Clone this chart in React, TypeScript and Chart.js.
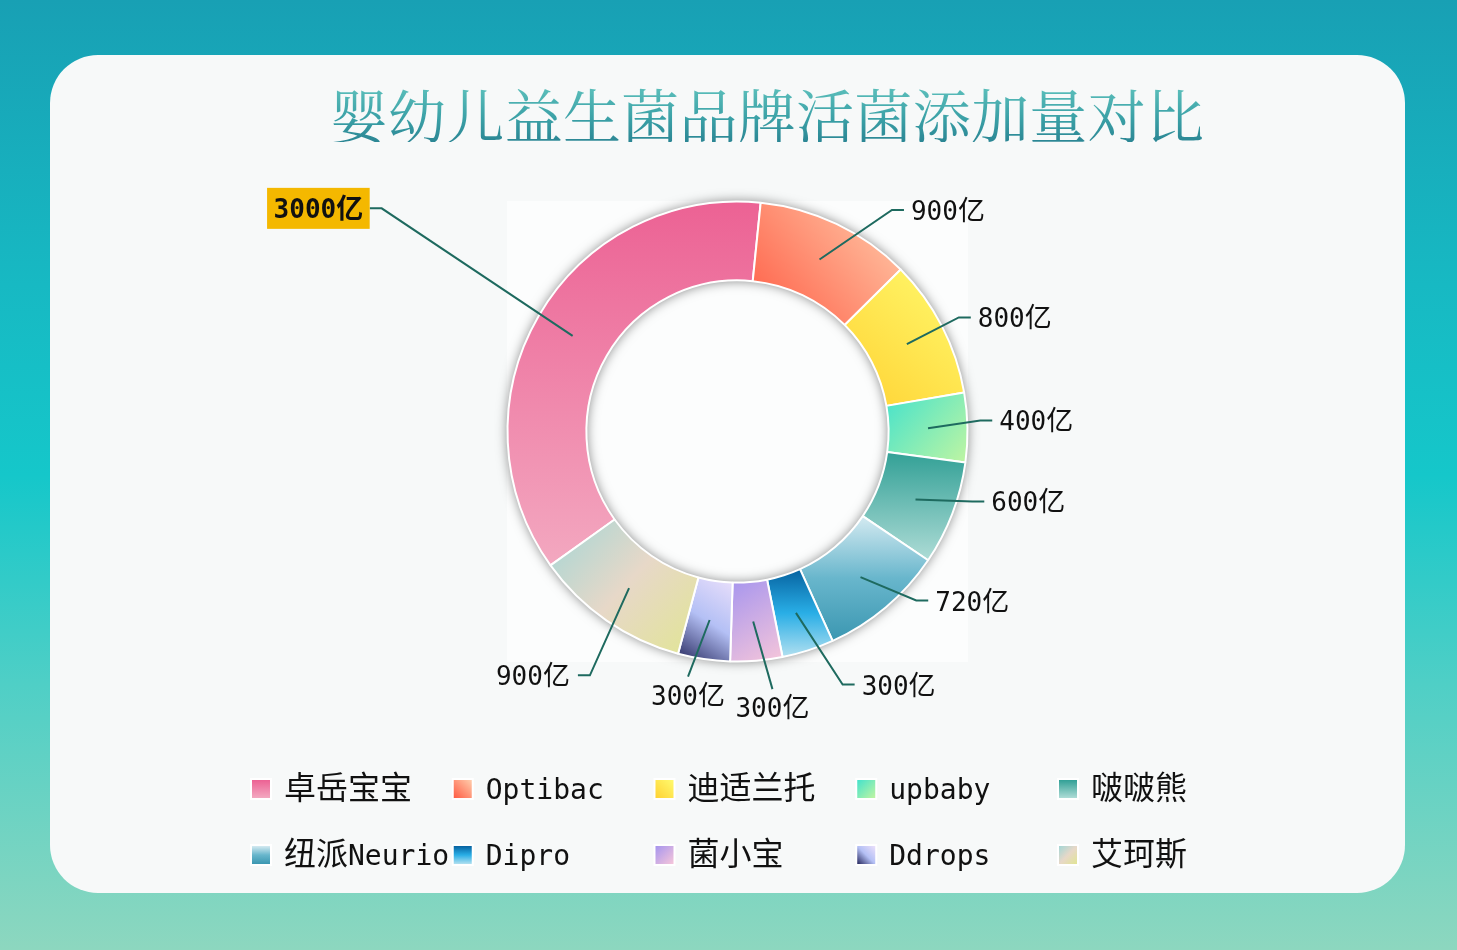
import { useEffect, useRef } from "react";
import { Chart, registerables } from "chart.js";

Chart.register(...registerables);

// data
const brands = ["卓岳宝宝", "Optibac", "迪适兰托", "upbaby", "啵啵熊", "纽派Neurio", "Dipro", "菌小宝", "Ddrops", "艾珂斯"];
const amounts = [3000, 900, 800, 400, 600, 720, 300, 300, 300, 900];
const unit = "亿";

// per-slice gradient: direction in the slice's bounding box (x0,y0,x1,y1) and colour stops
const sliceFills = [
  { dir: [0, 0, 0, 1], stops: ["#ec6294", "#f3a8c0"] },
  { dir: [0, 1, 1, 0], stops: ["#ff5c44", "#ffcdac"] },
  { dir: [0, 1, 1, 0], stops: ["#ffd233", "#fffa6e"] },
  { dir: [0, 0, 1, 1], stops: ["#44e2cc", "#c0f5a2"] },
  { dir: [0, 0, 0, 1], stops: ["#32a096", "#aedcd6"] },
  { dir: [0, 0, 0, 1], stops: ["#d4eaf1", "#68b6cc", "#3b97b1"] },
  { dir: [0, 0, 0, 1], stops: ["#0662a0", "#29aee6", "#b2e0f0"] },
  { dir: [0, 0, 1, 1], stops: ["#a695ee", "#f6c6da"] },
  { dir: [0, 1, 1, 0], stops: ["#26285e", "#b4c0f5", "#ebe0fb"] },
  { dir: [0, 0, 1, 1], stops: ["#a3d6d6", "#e7d8c8", "#e1e594"] },
];

// leader line layout: extra length past the ring, angle nudge (deg), where the text goes
const labelLines = [
  { len: 190, nudge: 2, side: "left", boxed: true },
  { len: 40, nudge: 9.4, side: "right" },
  { len: 19, nudge: 0, side: "right" },
  { len: 13, nudge: -1.6, side: "right" },
  { len: 15, nudge: -4.3, side: "right" },
  { len: 16, nudge: -6.4, side: "right" },
  { len: 44, nudge: -4.7, side: "right" },
  { len: 30, nudge: -3, side: "below" },
  { len: 20, nudge: 3, side: "below" },
  { len: 55, nudge: -3.5, side: "left" },
];

const rotationDeg = 234.4;
const outerR = 230;
const cutoutPct = 65.7;

const CARD = { left: 50, top: 55, width: 1355, height: 838 };

const latinFont = (size: number, bold = false) => `${bold ? "bold " : ""}${size}px "DejaVu Sans Mono", monospace`;
const cjkFont = (size: number, bold = false) => `${bold ? "bold " : ""}${size}px "Noto Sans CJK SC", sans-serif`;

function splitRuns(text: string) {
  const runs: { t: string; cjk: boolean }[] = [];
  for (const ch of text) {
    const cjk = /[\u2e80-\u9fff\uff00-\uffef]/.test(ch);
    const last = runs[runs.length - 1];
    if (last && last.cjk === cjk) last.t += ch;
    else runs.push({ t: ch, cjk });
  }
  return runs;
}

function mixedWidth(ctx: CanvasRenderingContext2D, text: string, lf: string, cf: string) {
  let w = 0;
  for (const r of splitRuns(text)) {
    ctx.font = r.cjk ? cf : lf;
    w += ctx.measureText(r.t).width;
  }
  return w;
}

function drawMixed(ctx: CanvasRenderingContext2D, text: string, x: number, base: number, align: string, lf: string, cf: string) {
  const w = mixedWidth(ctx, text, lf, cf);
  let cx = align === "right" ? x - w : align === "center" ? x - w / 2 : x;
  ctx.textAlign = "left";
  ctx.textBaseline = "alphabetic";
  for (const r of splitRuns(text)) {
    ctx.font = r.cjk ? cf : lf;
    ctx.fillText(r.t, cx, base);
    cx += ctx.measureText(r.t).width;
  }
  return w;
}

function sectorBox(cx: number, cy: number, r0: number, r1: number, a0: number, a1: number) {
  let x0 = Infinity, y0 = Infinity, x1 = -Infinity, y1 = -Infinity;
  for (let k = 0; k <= 60; k++) {
    const a = a0 + ((a1 - a0) * k) / 60;
    for (const r of [r0, r1]) {
      const x = cx + r * Math.cos(a);
      const y = cy + r * Math.sin(a);
      x0 = Math.min(x0, x); y0 = Math.min(y0, y);
      x1 = Math.max(x1, x); y1 = Math.max(y1, y);
    }
  }
  return { x0, y0, x1, y1 };
}

function gradientIn(ctx: CanvasRenderingContext2D, b: { x0: number; y0: number; x1: number; y1: number }, spec: { dir: number[]; stops: string[] }) {
  const w = b.x1 - b.x0, h = b.y1 - b.y0;
  const g = ctx.createLinearGradient(b.x0 + spec.dir[0] * w, b.y0 + spec.dir[1] * h, b.x0 + spec.dir[2] * w, b.y0 + spec.dir[3] * h);
  spec.stops.forEach((c, i) => g.addColorStop(i / (spec.stops.length - 1), c));
  return g;
}

function sliceFill(c: any) {
  const i = c.dataIndex;
  const spec = sliceFills[i % sliceFills.length];
  const area = c.chart.chartArea;
  if (!area || i == null) return spec.stops[0];
  const total = amounts.reduce((s, v) => s + v, 0);
  let a0 = (rotationDeg * Math.PI) / 180 - Math.PI / 2;
  for (let k = 0; k < i; k++) a0 += (amounts[k] / total) * Math.PI * 2;
  const a1 = a0 + (amounts[i] / total) * Math.PI * 2;
  const cx = (area.left + area.right) / 2;
  const cy = (area.top + area.bottom) / 2;
  const b = sectorBox(cx, cy, (outerR * cutoutPct) / 100, outerR, a0, a1);
  return gradientIn(c.chart.ctx, b, spec);
}

const backdropPlugin = {
  id: "backdrop",
  beforeDraw(chart: any) {
    const { ctx, chartArea: a } = chart;
    ctx.save();
    ctx.fillStyle = "#fcfdfd";
    ctx.fillRect(a.left, a.top, a.right - a.left, a.bottom - a.top);
    ctx.restore();
  },
  beforeDatasetsDraw(chart: any) {
    const arc = chart.getDatasetMeta(0).data[0];
    if (!arc) return;
    const { x, y, innerRadius, outerRadius } = arc.getProps(["x", "y", "innerRadius", "outerRadius"], true);
    const ctx = chart.ctx;
    ctx.save();
    ctx.beginPath();
    ctx.arc(x, y, outerRadius, 0, Math.PI * 2);
    ctx.arc(x, y, innerRadius, 0, Math.PI * 2, true);
    ctx.closePath();
    ctx.shadowColor = "rgba(0,0,0,0.5)";
    ctx.shadowBlur = 12;
    ctx.fillStyle = "#ffffff";
    ctx.fill();
    ctx.restore();
  },
};

const labelPlugin = {
  id: "sliceLabels",
  afterDatasetsDraw(chart: any) {
    const ctx: CanvasRenderingContext2D = chart.ctx;
    const meta = chart.getDatasetMeta(0);
    meta.data.forEach((arc: any, i: number) => {
      const p = arc.getProps(["startAngle", "endAngle", "x", "y", "innerRadius", "outerRadius"], true);
      const lay = labelLines[i];
      const mid = (p.startAngle + p.endAngle) / 2;
      const rm = (p.innerRadius + p.outerRadius) / 2;
      const x0 = p.x + rm * Math.cos(mid);
      const y0 = p.y + rm * Math.sin(mid);
      const a = mid + (lay.nudge * Math.PI) / 180;
      const re = p.outerRadius + lay.len;
      const x1 = p.x + re * Math.cos(a);
      const y1 = p.y + re * Math.sin(a);
      const text = `${amounts[i]}${unit}`;

      ctx.save();
      ctx.strokeStyle = "#1e6a5f";
      ctx.lineWidth = 2;
      ctx.beginPath();
      ctx.moveTo(x0, y0);
      ctx.lineTo(x1, y1);
      let x2 = x1;
      if (lay.side === "right") x2 = x1 + 12;
      if (lay.side === "left") x2 = x1 - 12;
      if (lay.side !== "below") ctx.lineTo(x2, y1);
      ctx.stroke();

      ctx.fillStyle = "#111111";
      if (lay.boxed) {
        const lf = latinFont(26, true), cf = cjkFont(27, true);
        const w = mixedWidth(ctx, text, lf, cf);
        const bw = w + 13;
        ctx.fillStyle = "#f4b800";
        ctx.fillRect(x2 - bw, y1 - 20.5, bw, 41);
        ctx.fillStyle = "#111111";
        drawMixed(ctx, text, x2 - 6.5, y1 + 10, "right", lf, cf);
      } else if (lay.side === "right") {
        drawMixed(ctx, text, x2 + 7, y1 + 10, "left", latinFont(26), cjkFont(27));
      } else if (lay.side === "left") {
        drawMixed(ctx, text, x2 - 8, y1 + 10, "right", latinFont(26), cjkFont(27));
      } else {
        drawMixed(ctx, text, x1, y1 + 28, "center", latinFont(26), cjkFont(27));
      }
      ctx.restore();
    });
  },
};

const legendPlugin = {
  id: "gridLegend",
  afterDraw(chart: any) {
    const ctx: CanvasRenderingContext2D = chart.ctx;
    const left = 250 - CARD.left;
    const step = 201.75;
    const rows = [789 - CARD.top, 855 - CARD.top];
    ctx.save();
    brands.forEach((name, i) => {
      const col = i % 5;
      const row = Math.floor(i / 5);
      const x = left + col * step;
      const cy = rows[row];
      ctx.fillStyle = "#ffffff";
      ctx.fillRect(x, cy - 11, 22, 22);
      const b = { x0: x + 2, y0: cy - 9, x1: x + 20, y1: cy + 9 };
      ctx.fillStyle = gradientIn(ctx, b, sliceFills[i]);
      ctx.fillRect(b.x0, b.y0, 18, 18);
      ctx.fillStyle = "#111111";
      drawMixed(ctx, name, x + 34, cy + 10, "left", latinFont(28), cjkFont(32));
    });
    ctx.restore();
  },
};

function DonutCard() {
  const chartRef = useRef<HTMLCanvasElement>(null);
  const chartInstance = useRef<Chart | null>(null);

  useEffect(() => {
    if (!chartRef.current) return;
    if (chartInstance.current) chartInstance.current.destroy();
    const ctx = chartRef.current.getContext("2d");
    if (!ctx) return;

    chartInstance.current = new Chart(ctx, {
      type: "doughnut",
      data: {
        labels: brands,
        datasets: [
          {
            data: amounts,
            backgroundColor: sliceFill as any,
            borderColor: "#ffffff",
            borderWidth: 2,
            hoverOffset: 0,
          },
        ],
      },
      options: {
        responsive: true,
        maintainAspectRatio: false,
        animation: false,
        events: [],
        rotation: rotationDeg,
        radius: outerR,
        cutout: `${cutoutPct}%`,
        layout: {
          padding: {
            left: 507 - CARD.left,
            right: CARD.left + CARD.width - 968,
            top: 201 - CARD.top,
            bottom: CARD.top + CARD.height - 662,
          },
        },
        plugins: {
          legend: { display: false },
          tooltip: { enabled: false },
        },
      },
      plugins: [backdropPlugin, labelPlugin, legendPlugin],
    });

    return () => {
      if (chartInstance.current) {
        chartInstance.current.destroy();
        chartInstance.current = null;
      }
    };
  }, []);

  return <canvas ref={chartRef} />;
}

export default function App() {
  return (
    <div
      style={{
        position: "fixed",
        inset: 0,
        overflow: "hidden",
        background: "linear-gradient(180deg, #18a0b4 0%, #17b9c3 30%, #15c7ca 50%, #4fcfc6 72%, #8dd7bf 100%)",
      }}
    >
      <div
        style={{
          position: "absolute",
          left: CARD.left,
          top: CARD.top,
          width: CARD.width,
          height: CARD.height,
          borderRadius: 48,
          background: "#f7f9f9",
          overflow: "hidden",
        }}
      >
        <div style={{ position: "absolute", inset: 0 }}>
          <DonutCard />
        </div>
      </div>
      <div
        style={{
          position: "absolute",
          left: 767,
          top: 84,
          transform: "translateX(-50%)",
          whiteSpace: "nowrap",
          fontFamily: '"Noto Serif CJK SC", "Noto Sans CJK SC", serif',
          fontSize: 58,
          lineHeight: "58px",
          letterSpacing: "0.3px",
          background: "linear-gradient(180deg, #5fc2bd 0%, #3aa0a6 60%, #2b8694 100%)",
          WebkitBackgroundClip: "text",
          backgroundClip: "text",
          color: "transparent",
        }}
      >
        婴幼儿益生菌品牌活菌添加量对比
      </div>
    </div>
  );
}
